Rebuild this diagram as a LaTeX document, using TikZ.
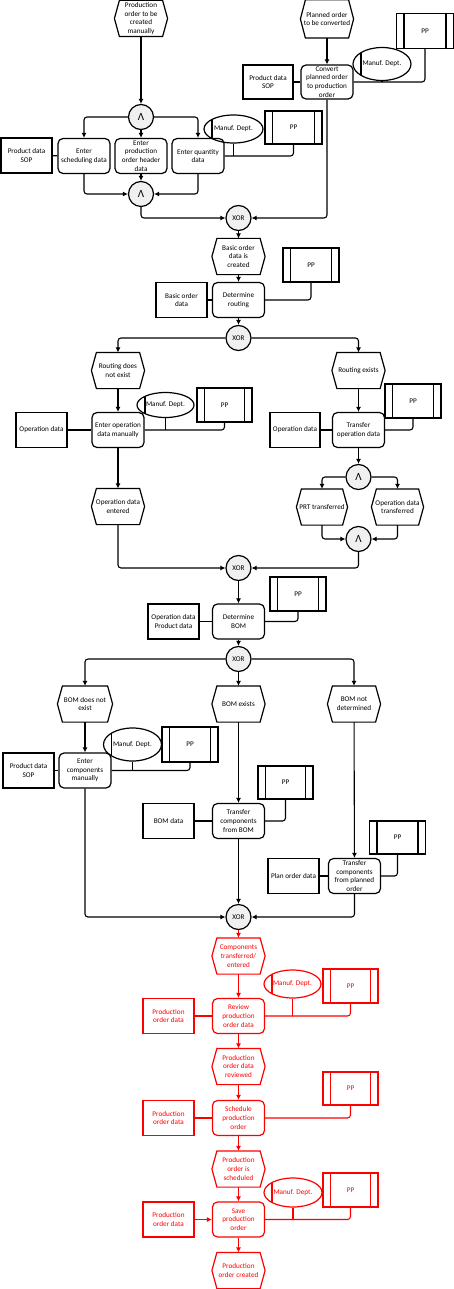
\documentclass[tikz,border=0pt]{standalone}
\usepackage{fontspec}
\setmainfont{Carlito}
\usetikzlibrary{arrows.meta,shapes.geometric}
\tikzset{
 nbase/.style={font=\fontsize{7.2}{8.7}\selectfont, align=center, inner sep=0pt, line width=1.2pt},
 fn/.style={nbase, draw, rounded corners=5pt, minimum width=52pt, minimum height=35pt},
 dat/.style={nbase, draw, minimum width=51pt, minimum height=35pt},
 evnode/.style={nbase, minimum width=52pt, minimum height=35pt},
 evline/.style={line width=1.2pt, line join=miter},
 ppbox/.style={nbase, draw, minimum width=56pt, minimum height=34pt,
   path picture={\draw[line width=1.1pt]
     ([xshift=7.5pt]path picture bounding box.north west) -- ([xshift=7.5pt]path picture bounding box.south west)
     ([xshift=-7.5pt]path picture bounding box.north east) -- ([xshift=-7.5pt]path picture bounding box.south east);}},
 org/.style={nbase, draw, ellipse, minimum width=58pt, minimum height=30pt,
   path picture={\draw[line width=1.1pt]
     ([xshift=8pt]path picture bounding box.north west) -- ([xshift=8pt]path picture bounding box.south west);}},
 gate/.style={nbase, draw, circle, fill=gray!12, minimum size=25pt},
 flow/.style={line width=1.1pt, rounded corners=3pt, -{Latex[length=5pt,width=5pt]}},
 link/.style={line width=1.1pt, rounded corners=3pt},
}
\newcommand\evt[4][]{\node[evnode,#1] (#2) at (#3) {#4};
 \draw[evline,#1] ([xshift=5pt]#2.north west) -- ([xshift=-5pt]#2.north east) -- (#2.east) -- ([xshift=-5pt]#2.south east) -- ([xshift=5pt]#2.south west) -- (#2.west) -- cycle;}
\newcommand\andsym{{\fontsize{11}{11}\selectfont Λ}}
\begin{document}
\begin{tikzpicture}[x=1pt,y=-1pt]
\useasboundingbox (0,0) rectangle (454,1289);
% ---------- top section
\evt{e1}{141,18.5}{Production\\order to be\\created\\manually}
\evt[minimum height=37pt]{e2}{327,19}{Planned order\\to be converted}
\node[ppbox,minimum width=57pt,minimum height=35pt] (pp1) at (425,31) {PP};
\node[org,minimum height=33pt] (org1) at (382,64) {Manuf. Dept.};
\node[dat,minimum width=50pt,minimum height=34pt] (d1) at (268,82) {Product data\\SOP};
\node[fn,minimum height=34pt] (f1) at (327,82) {Convert\\planned order\\to production\\order};
\node[gate] (a1) at (141,117) {\andsym};
\node[dat] (sopL) at (26.5,155.5) {Product data\\SOP};
\node[fn] (f2) at (84,156) {Enter\\scheduling data};
\node[fn] (f3) at (141,156) {Enter\\production\\order header\\data};
\node[fn] (f4) at (198,156) {Enter quantity\\data};
\node[org,minimum width=59pt,minimum height=28pt] (org2) at (233.5,129) {Manuf. Dept.};
\node[ppbox,minimum width=57pt,minimum height=33pt] (pp2) at (293.5,127.5) {PP};
\node[gate] (a2) at (141,194) {\andsym};
\node[gate] (x1) at (238.5,218) {XOR};
\draw[flow] (e1) -- (a1);
\draw[flow] (a1.west) -| (f2.north);
\draw[flow] (a1) -- (f3);
\draw[flow] (a1.east) -| (f4.north);
\draw[flow] (f2.south) |- (a2.west);
\draw[flow] (f3) -- (a2);
\draw[flow] (f4.south) |- (a2.east);
\draw[flow] (a2.south) |- (x1.west);
\draw[flow] (e2) -- (f1);
\draw[flow] (f1.south) |- (x1.east);
\draw[link] (d1) -- (f1);
\draw[link] (sopL) -- (f2);
\draw[link] (f1.east) -| (pp1.south);
\draw[link] (org1.south) -- (org1.south |- f1.east);
\draw[link] (f4.east) -| (pp2.south);
\draw[link] (org2.south) -- (org2.south |- f4.east);
% ---------- routing
\evt{e3}{238.5,256.5}{Basic order\\data is\\created}
\node[fn] (f5) at (238.5,300) {Determine\\routing};
\node[dat] (d2) at (181.5,300) {Basic order\\data};
\node[ppbox] (pp3) at (311,265) {PP};
\node[gate] (x2) at (238.5,338) {XOR};
\evt{e4}{118,370.5}{Routing does\\not exist}
\evt{e5}{358.5,370.5}{Routing exists}
\node[fn] (f6) at (118,430) {Enter operation\\data manually};
\node[dat] (d3) at (41.5,430) {Operation data};
\node[org,minimum width=57pt,minimum height=25pt] (org3) at (165.5,405) {Manuf. Dept.};
\node[ppbox,minimum width=55pt] (pp4) at (224.5,405) {PP};
\node[fn] (f7) at (358.5,430) {Transfer\\operation data};
\node[dat,minimum width=50pt] (d4) at (295,430) {Operation data};
\node[ppbox] (pp5) at (413,401) {PP};
\node[gate] (a3) at (358.5,477) {\andsym};
\evt[minimum width=50pt]{e6}{322,507}{PRT transferred}
\evt[minimum width=51pt]{e7}{397.5,507}{Operation data\\transferred}
\node[gate] (a4) at (358.5,539) {\andsym};
\evt{e8}{118,506.5}{Operation data\\entered}
\node[gate] (x3) at (238.5,568) {XOR};
\node[fn] (f8) at (238.5,621.5) {Determine\\BOM};
\node[dat] (d5) at (173.5,621.5) {Operation data\\Product data};
\node[ppbox] (pp6) at (298,594) {PP};
\node[gate] (x4) at (238.5,659) {XOR};
\draw[flow] (x1) -- (e3);
\draw[flow] (e3) -- (f5);
\draw[flow] (f5) -- (x2);
\draw[link] (d2) -- (f5);
\draw[link] (f5.east) -| (pp3.south);
\draw[flow] (x2.west) -| (e4.north);
\draw[flow] (x2.east) -| (e5.north);
\draw[flow] (e4) -- (f6);
\draw[flow] (e5) -- (f7);
\draw[link] (d3) -- (f6);
\draw[link] (f6.east) -| (pp4.south);
\draw[link] (org3.south) -- (org3.south |- f6.east);
\draw[link] (d4) -- (f7);
\draw[link] (f7.east) -| (pp5.south);
\draw[flow] (f6) -- (e8);
\draw[flow] (f7) -- (a3);
\draw[flow] (a3.west) -| (e6.north);
\draw[flow] (a3.east) -| (e7.north);
\draw[flow] (e6.south) |- (a4.west);
\draw[flow] (e7.south) |- (a4.east);
\draw[flow] (e8.south) |- (x3.west);
\draw[flow] (a4.south) |- (x3.east);
\draw[flow] (x3) -- (f8);
\draw[link] (d5) -- (f8);
\draw[link] (f8.east) -| (pp6.south);
\draw[flow] (f8) -- (x4);
% ---------- BOM
\evt[minimum width=54pt]{e9}{85,704}{BOM does not\\exist}
\evt{e10}{238.5,704}{BOM exists}
\evt{e11}{354,704}{BOM not\\determined}
\node[fn] (f9) at (85,770.5) {Enter\\components\\manually};
\node[dat] (d6) at (28.5,770.5) {Product data\\SOP};
\node[org,minimum height=33pt] (org4) at (132.5,744.5) {Manuf. Dept.};
\node[ppbox,minimum height=35pt] (pp7) at (190,744.5) {PP};
\node[fn] (f10) at (238.5,821) {Transfer\\components\\from BOM};
\node[dat] (d7) at (168.5,821) {BOM data};
\node[ppbox,minimum width=55pt,minimum height=33pt] (pp8) at (285.5,782.5) {PP};
\node[fn] (f11) at (354.5,876) {Transfer\\components\\from planned\\order};
\node[dat] (d8) at (293.5,876) {Plan order data};
\node[ppbox,minimum height=33pt] (pp9) at (397.5,837.5) {PP};
\node[gate] (x5) at (238.5,917) {XOR};
\draw[flow] (x4.west) -| (e9.north);
\draw[flow] (x4) -- (e10);
\draw[flow] (x4.east) -| (e11.north);
\draw[flow] (e9) -- (f9);
\draw[flow] (e10) -- (f10);
\draw[flow] (e11) -- (f11);
\draw[link] (d6) -- (f9);
\draw[link] (f9.east) -| (pp7.south);
\draw[link] (org4.south) -- (org4.south |- f9.east);
\draw[link] (d7) -- (f10);
\draw[link] (f10.east) -| (pp8.south);
\draw[link] (d8) -- (f11);
\draw[link] (f11.east) -| (pp9.south);
\draw[flow] (f9.south) |- (x5.west);
\draw[flow] (f10) -- (x5);
\draw[flow] (f11.south) |- (x5.east);
% ---------- red section
\begin{scope}[red]
\evt[red]{e12}{238.5,956}{Components\\transferred/\\entered}
\node[fn,red] (f12) at (238.5,1016) {Review\\production\\order data};
\node[dat,red] (d9) at (168.5,1016) {Production\\order data};
\node[org,red,minimum width=57pt,minimum height=28pt] (org5) at (292.5,984) {Manuf. Dept.};
\node[ppbox,red,minimum width=55pt] (pp10) at (350.5,986) {PP};
\evt[red]{e13}{238.5,1066.5}{Production\\order data\\reviewed}
\node[fn,red] (f13) at (238.5,1118) {Schedule\\production\\order};
\node[dat,red] (d10) at (168.5,1118) {Production\\order data};
\node[ppbox,red,minimum width=55pt,minimum height=33pt] (pp11) at (350.5,1088.5) {PP};
\evt[red]{e14}{238.5,1169}{Production\\order is\\scheduled}
\node[fn,red] (f14) at (238.5,1219.5) {Save\\production\\order};
\node[dat,red] (d11) at (168.5,1219.5) {Production\\order data};
\node[org,red,minimum height=29pt] (org6) at (293,1192.5) {Manuf. Dept.};
\node[ppbox,red,minimum width=55pt] (pp12) at (350.5,1190) {PP};
\evt[red]{e15}{238.5,1270.5}{Production\\order created}
\draw[flow] (x5) -- (e12);
\draw[flow] (e12) -- (f12);
\draw[link] (d9) -- (f12);
\draw[link] (f12.east) -| (pp10.south);
\draw[link] (org5.south) -- (org5.south |- f12.east);
\draw[flow] (f12) -- (e13);
\draw[flow] (e13) -- (f13);
\draw[link] (d10) -- (f13);
\draw[link] (f13.east) -| (pp11.south);
\draw[flow] (f13) -- (e14);
\draw[flow] (e14) -- (f14);
\draw[flow] (d11) -- (f14);
\draw[link] (f14.east) -| (pp12.south);
\draw[link] (org6.south) -- (org6.south |- f14.east);
\draw[flow] (f14) -- (e15);
\end{scope}
\end{tikzpicture}
\end{document}
